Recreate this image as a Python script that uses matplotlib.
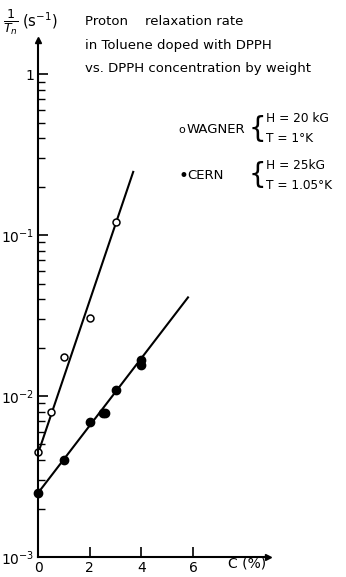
import matplotlib
matplotlib.use("Agg")
import matplotlib.pyplot as plt
from matplotlib.ticker import LogLocator, NullFormatter, FixedLocator, FixedFormatter

plt.rcParams['font.family'] = ['DejaVu Sans']
plt.rcParams['mathtext.fontset'] = 'dejavusans'

# measured points, C in % by weight, 1/T1n in s^-1
wagner_c = [0, 0.5, 1, 2, 3]
wagner_r = [4.5e-3, 8.0e-3, 1.75e-2, 3.05e-2, 0.12]
cern_c = [0, 1, 2, 2.5, 2.6, 3, 4, 4]
cern_r = [2.5e-3, 4.0e-3, 6.9e-3, 7.9e-3, 7.8e-3, 1.09e-2, 1.68e-2, 1.55e-2]

# straight-line fits drawn on the original
wagner_fit_c = [0, 3.68]
wagner_fit_r = [4.4e-3, 0.247]
cern_fit_c = [0, 5.8]
cern_fit_r = [2.5e-3, 4.1e-2]

xticks = [0, 2, 4, 6]
yticks = [1e-3, 1e-2, 1e-1, 1]
ytick_labels = ['$10^{-3}$', '$10^{-2}$', '$10^{-1}$', '1']

fig = plt.figure(figsize=(3.46, 5.77), dpi=100)
ax = fig.add_axes([0.110, 0.0347, 0.665, 0.896])

ax.plot(wagner_fit_c, wagner_fit_r, color='black', lw=1.5)
ax.plot(cern_fit_c, cern_fit_r, color='black', lw=1.5)
ax.plot(wagner_c, wagner_r, 'o', mfc='white', mec='black', ms=5, mew=1.1, clip_on=False)
ax.plot(cern_c, cern_r, 'o', color='black', ms=6, clip_on=False)

ax.set_yscale('log')
ax.set_xlim(0, 8.9)
ax.set_ylim(1e-3, 1.63)

for s in ['top', 'right']:
    ax.spines[s].set_visible(False)
for s in ['left', 'bottom']:
    ax.spines[s].set_linewidth(1.5)

ax.xaxis.set_major_locator(FixedLocator(xticks))
ax.yaxis.set_major_locator(FixedLocator(yticks))
ax.yaxis.set_major_formatter(FixedFormatter(ytick_labels))
ax.yaxis.set_minor_locator(LogLocator(base=10, subs=range(2, 10)))
ax.yaxis.set_minor_formatter(NullFormatter())
ax.tick_params(axis='both', which='major', direction='in', length=7, width=1.2,
               labelsize=10, pad=3)
ax.tick_params(axis='y', which='minor', direction='in', length=5, width=1.0)

# arrow heads on the axes
ax.plot(1, 0, '>', color='black', ms=5, transform=ax.transAxes, clip_on=False)
ax.plot(0, 1, '^', color='black', ms=4, transform=ax.transAxes, clip_on=False)

fig.text(0.66, 0.012, 'C (%)', fontsize=10, ha='left', va='bottom')
fig.text(0.01, 0.962, r'$\frac{1}{T_n}$', fontsize=13, ha='left', va='center')
fig.text(0.065, 0.965, r'(s$^{-1}$)', fontsize=10.5, ha='left', va='center')

title_lines = ['Proton    relaxation rate',
               'in Toluene doped with DPPH',
               'vs. DPPH concentration by weight']
for i, line in enumerate(title_lines):
    fig.text(0.245, 0.962 - i * 0.04, line, fontsize=9.5, ha='left', va='center')

# legend
fig.text(0.515, 0.775, 'o', fontsize=8, ha='left', va='center')
fig.text(0.54, 0.775, 'WAGNER', fontsize=9.5, ha='left', va='center')
fig.text(0.718, 0.777, '{', fontsize=20, ha='left', va='center')
fig.text(0.768, 0.795, 'H = 20 kG', fontsize=8.7, ha='left', va='center')
fig.text(0.768, 0.760, 'T = 1°K', fontsize=8.7, ha='left', va='center')

fig.text(0.515, 0.695, '•', fontsize=12, ha='left', va='center')
fig.text(0.54, 0.695, 'CERN', fontsize=9.5, ha='left', va='center')
fig.text(0.718, 0.697, '{', fontsize=20, ha='left', va='center')
fig.text(0.768, 0.713, 'H = 25kG', fontsize=8.7, ha='left', va='center')
fig.text(0.768, 0.679, 'T = 1.05°K', fontsize=8.7, ha='left', va='center')

fig.savefig('out.png', dpi=100)
